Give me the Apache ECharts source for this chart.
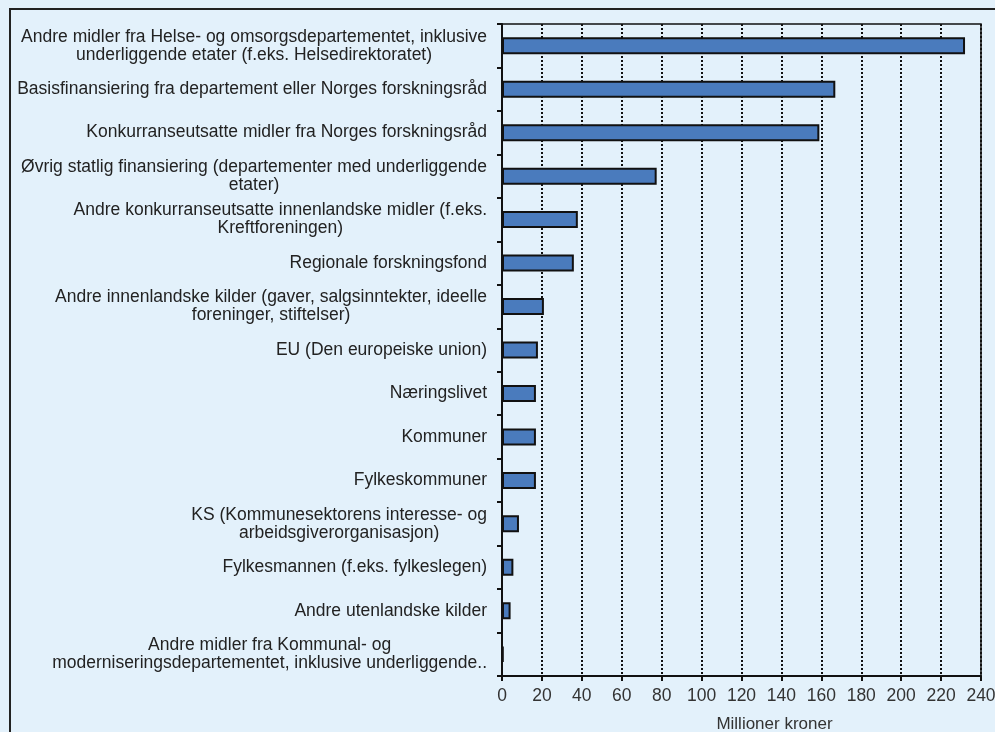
<!DOCTYPE html>
<html>
<head>
<meta charset="utf-8">
<script src="https://cdn.jsdelivr.net/npm/echarts@6/dist/echarts.min.js"></script>
<style>
	html, body { margin: 0; padding: 0; background: #e3f1fb; }
	#chart { width: 995px; height: 732px; }
</style>
</head>
<body>
<div id="chart"></div>
<script>
// kategorier (ovenfra og ned)
var categories = [
	"Andre midler fra Helse- og omsorgsdepartementet, inklusive\nunderliggende etater (f.eks. Helsedirektoratet)",
	"Basisfinansiering fra departement eller Norges forskningsråd",
	"Konkurranseutsatte midler fra Norges forskningsråd",
	"Øvrig statlig finansiering (departementer med underliggende\netater)",
	"Andre konkurranseutsatte innenlandske midler (f.eks.\nKreftforeningen)",
	"Regionale forskningsfond",
	"Andre innenlandske kilder (gaver, salgsinntekter, ideelle\nforeninger, stiftelser)",
	"EU (Den europeiske union)",
	"Næringslivet",
	"Kommuner",
	"Fylkeskommuner",
	"KS (Kommunesektorens interesse- og\narbeidsgiverorganisasjon)",
	"Fylkesmannen (f.eks. fylkeslegen)",
	"Andre utenlandske kilder",
	"Andre midler fra Kommunal- og\nmoderniseringsdepartementet, inklusive underliggende.."
];
// millioner kroner
var values = [232, 167, 159, 77.5, 38, 36, 21, 18, 17, 17, 17, 8.5, 5.7, 4.3, 0.8];
var axisName = "Millioner kroner";

/**
 * sentrerte linjer i en høyrejustert blokk
 */
function formatLabel(v) {
	return v.split("\n").map(function(line) {
		return "{c|" + line + "}";
	}).join("\n");
}

var myChart = echarts.init(document.getElementById('chart'));
var option = {
	backgroundColor: '#e3f1fb',
	animation: false,
	graphic: [{
		type: 'rect',
		shape: { x: 10, y: 9, width: 1000, height: 800 },
		style: { fill: 'none', stroke: '#222', lineWidth: 2 },
		silent: true
	}],
	grid: {
		left: 502,
		right: 14,
		top: 24,
		bottom: 56,
		outerBoundsMode: 'none',
		show: true,
		borderColor: '#111',
		borderWidth: 1.5,
		backgroundColor: 'transparent'
	},
	xAxis: {
		type: 'value',
		min: 0,
		max: 240,
		interval: 20,
		name: axisName,
		nameLocation: 'middle',
		nameGap: 40,
		nameTextStyle: {
			fontFamily: 'Liberation Sans, Arial',
			fontSize: 17,
			color: '#333',
			padding: [0, 0, 0, 66]
		},
		axisLine: { show: true, lineStyle: { color: '#111', width: 2 } },
		axisTick: { show: true, length: 5, lineStyle: { color: '#111', width: 2 } },
		axisLabel: {
			fontFamily: 'Liberation Sans, Arial',
			fontSize: 17.5,
			color: '#333',
			margin: 11
		},
		splitLine: { show: true, lineStyle: { color: '#111', type: [2, 2], width: 2 } }
	},
	yAxis: {
		type: 'category',
		inverse: true,
		data: categories,
		axisLine: { show: true, lineStyle: { color: '#111', width: 2 } },
		axisTick: { show: true, length: 5, lineStyle: { color: '#111', width: 2 } },
		axisLabel: {
			margin: 15,
			color: '#222',
			fontFamily: 'Liberation Sans, Arial',
			fontSize: 17.5,
			lineHeight: 18,
			formatter: formatLabel,
			rich: {
				c: {
					align: 'center',
					fontFamily: 'Liberation Sans, Arial',
					fontSize: 17.5,
					lineHeight: 18,
					color: '#222'
				}
			}
		}
	},
	series: [{
		type: 'bar',
		data: values,
		barWidth: 17,
		itemStyle: {
			color: '#4a7bbd',
			borderColor: '#111',
			borderWidth: 2
		}
	}]
};
myChart.setOption(option);
</script>
</body>
</html>
